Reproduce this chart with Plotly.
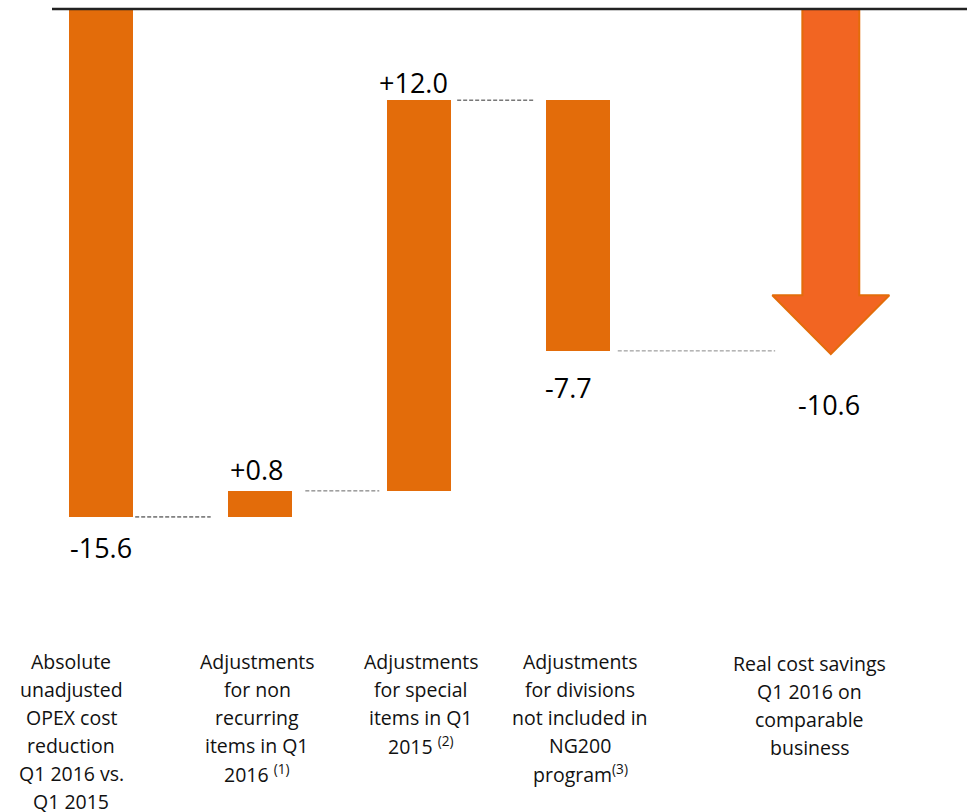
import plotly.graph_objects as go

# ---- data ----
categories = [
    "Absolute<br>unadjusted<br>OPEX cost<br>reduction<br>Q1 2016 vs.<br>Q1 2015",
    "Adjustments<br>for non<br>recurring<br>items in Q1<br>2016 <sup>(1)</sup>",
    "Adjustments<br>for special<br>items in Q1<br>2015 <sup>(2)</sup>",
    "Adjustments<br>for divisions<br>not included in<br>NG200<br>program<sup>(3)</sup>",
    "Real cost savings<br>Q1 2016 on<br>comparable<br>business",
]
step_values = [-15.6, 0.8, 12.0, -7.7]
total_value = -10.6
value_labels = ["-15.6", "+0.8", "+12.0", "-7.7", "-10.6"]
x_pos = [0, 1, 2, 3, 4.59]

# ---- styles ----
BAR = "#E36C0A"
ARROW_FILL = "#F26522"
FONT = "Open Sans"

W, H = 967, 812
PX_PER_X = 159.0
PX_PER_Y = 32.56
X0_PX, Y0_PX = 101, 9
x_range = [-X0_PX / PX_PER_X, (W - X0_PX) / PX_PER_X]
y_range = [-(H - Y0_PX) / PX_PER_Y, Y0_PX / PX_PER_Y]

# cumulative bases
bases, levels = [], []
lvl = 0.0
for v in step_values:
    bases.append(lvl)
    lvl = round(lvl + v, 6)
    levels.append(lvl)

fig = go.Figure()

fig.add_trace(go.Bar(
    x=x_pos[:4], y=step_values, base=bases, width=0.40,
    marker=dict(color=BAR, line=dict(width=0)),
    hoverinfo="skip", showlegend=False,
))

# arrow for total
xc = x_pos[4]
sw, hw, hh = 0.179, 0.368, 1.81
ax = [xc - sw, xc + sw, xc + sw, xc + hw, xc, xc - hw, xc - sw, xc - sw]
ay = [0, 0, total_value + hh, total_value + hh, total_value, total_value + hh, total_value + hh, 0]
fig.add_trace(go.Scatter(
    x=ax, y=ay, mode="lines", fill="toself", fillcolor=ARROW_FILL,
    line=dict(color=BAR, width=2), hoverinfo="skip", showlegend=False,
))

shapes = []
# zero line
shapes.append(dict(type="line", xref="x", yref="y", x0=(52 - X0_PX) / PX_PER_X, x1=x_range[1],
                   y0=0, y1=0, line=dict(color="#222222", width=2.5), layer="above"))
# connectors
conn_start = [0.215, 0.285, 0.24, 0.25]
conn_end = [0.31, 0.25, 0.27, 0.35]
conn_col = ["#222222", "#666666", "#333333", "#888888"]
for i in range(4):
    shapes.append(dict(type="line", xref="x", yref="y",
                       x0=x_pos[i] + conn_start[i], x1=x_pos[i + 1] - conn_end[i],
                       y0=levels[i], y1=levels[i],
                       line=dict(color=conn_col[i], width=1, dash="4px,2px")))

annotations = []
# value labels
label_y = levels + [total_value]
label_dx = [0, -4, -6, -10, -2]
label_dy = [-31, 21, 18, -37, -50]
for i, t in enumerate(value_labels):
    annotations.append(dict(x=x_pos[i], y=label_y[i], xref="x", yref="y", text=t,
                            showarrow=False, xshift=label_dx[i], yshift=label_dy[i],
                            font=dict(family=FONT, size=27, color="#000000"),
                            xanchor="center", yanchor="middle"))

# category labels (one annotation per line to match spacing)
cat_dx = [-30, -3, 2, 2, -21]
cat_top = [661, 661, 661, 661, 663]
LINE_PITCH = 28
for i, lab in enumerate(categories):
    for k, line in enumerate(lab.split("<br>")):
        ypx = cat_top[i] + k * LINE_PITCH
        annotations.append(dict(x=x_pos[i], y=1 - ypx / H, xref="x", yref="paper",
                                text=line, showarrow=False, xshift=cat_dx[i],
                                font=dict(family=FONT, size=19.5, color="#111111"),
                                xanchor="center", yanchor="middle"))

fig.update_layout(
    width=W, height=H, margin=dict(l=0, r=0, t=0, b=0),
    paper_bgcolor="white", plot_bgcolor="white",
    xaxis=dict(range=x_range, visible=False, fixedrange=True),
    yaxis=dict(range=y_range, visible=False, fixedrange=True),
    shapes=shapes, annotations=annotations, bargap=0,
)

fig.write_html("out.html")
